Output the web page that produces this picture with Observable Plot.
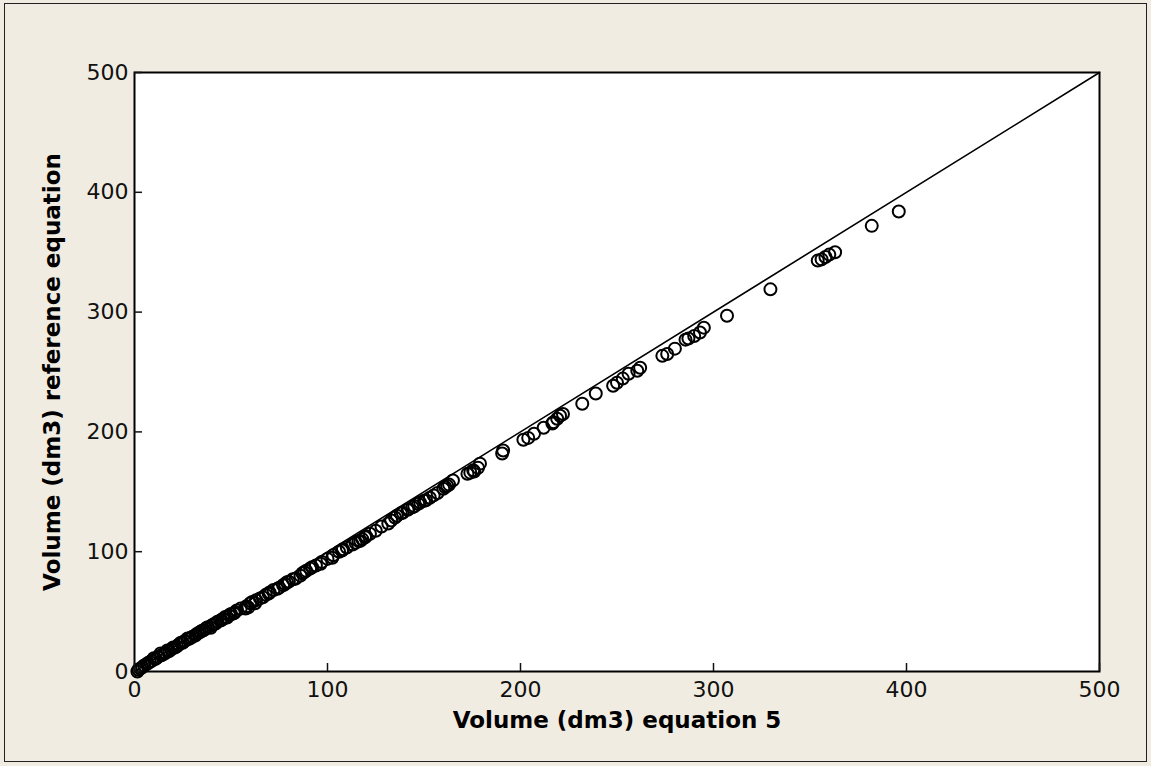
<!DOCTYPE html>
<html><head><meta charset="utf-8">
<script src="https://cdn.jsdelivr.net/npm/d3@7"></script>
<script src="https://cdn.jsdelivr.net/npm/@observablehq/plot@0.6"></script>
<style>
html,body{margin:0;padding:0;background:#F0ECE2;}
#wrap{position:relative;width:1151px;height:766px;overflow:hidden;}
#border{position:absolute;left:4px;top:3px;width:1143px;height:759px;border:1px solid #222;box-sizing:border-box;}
#wrap svg{position:absolute;left:0;top:0;}
</style></head><body><div id="wrap"><div id="border"></div></div>
<script>
const xTicks = [0, 100, 200, 300, 400, 500];
const yTicks = [0, 100, 200, 300, 400, 500];
const xLabel = "Volume (dm3) equation 5";
const yLabel = "Volume (dm3) reference equation";
const lineX = [0, 500];
const lineY = [0, 500];
const volEq5 = [396,382,363,360,358,356,354,329.5,307,295,293,290,287,285.5,280,276,273.5,262,260.5,256,253,250,248,239,232,222,220.5,219,217,216.5,212,207,204,201.5,191,190.5,179,175.5,174,172.5,165,162,160,155,150,147,144,141.5,138,136,131.5,125,122,119.5,117,114.5,107.5,102.5,100,96.5,94,91,87,86,83.5,77,74,69.5,66.5,62.5,59,57.5,51.5,48,44.5,42,39.5,35,31.5,27.5,24,20,17,13.5,10,6.5,3,1.5,
2,4,5,7,8,9,11,12,14,15,16,18,19,21,22,23,25,26,28,29,30,32,33,34,36,37,38,40,41,43,45,46,47,49,50,52,53,55,58,60,61,63,65,68,70,72,75,78,79,80,82,88,89,92,97,103,106,108,110,113,116,118,120,128,133,135,139,142,145,148,151,153,157,161,163,176,178];
const volRef = [384,372,350,348,346,344,343,319,297,287,283,280,278,277,269.5,265,263.5,253.5,251,248.5,244.5,241,238.5,232,223.5,215,213.5,211,208,207,203.5,198.5,195,193.5,184.5,182,173.5,168,166,165,159.5,155,152.5,147,142.5,140,137,135,132,130,123.5,117.5,115,112,109,107.5,101,95,94,90,88.5,86,82,80,77.5,72,69,65,62,57,53.5,52.5,48.5,45,42.5,40,36.5,34,30,27.5,24,20,17.5,15,11,6.5,2.5,0,
1.5,3.5,5,7,8,9,10.5,12,13.5,14.5,15.5,17,18.5,20,21,22.5,24,25.5,27,28,29,31,32,33,34.5,36,37,38.5,39.5,41.5,43,44,45.5,47,48,49.5,51,52.5,54.5,57,58,59.5,61,64,66,68,70,73,74.5,75,77,83,84,87,91.5,97,100,102,103.5,106,109,110.5,113,121,126,128.5,132.5,135.5,138,141,143,145,149,154,156,167,170];
const pts = volEq5.map((x, i) => ({x, y: volRef[i]}));
const diag = lineX.map((x, i) => ({x, y: lineY[i]}));

const chart = Plot.plot({
  width: 1151, height: 766,
  marginLeft: 134, marginRight: 52, marginTop: 72, marginBottom: 95,
  style: {background: "transparent", fontFamily: "'DejaVu Sans', sans-serif", fontSize: "22px", color: "#111", overflow: "visible"},
  x: {domain: [0, 500]},
  y: {domain: [0, 500]},
  marks: [
    Plot.frame({fill: "white", stroke: null}),
    Plot.line(diag, {x: "x", y: "y", stroke: "black", strokeWidth: 1.6}),
    Plot.dot(pts, {x: "x", y: "y", r: 6, stroke: "black", strokeWidth: 2, fill: "none"}),
    Plot.frame({stroke: "black", strokeWidth: 2}),
    Plot.axisX({ticks: xTicks, tickSize: 8, text: null, dy: -8, label: null, strokeWidth: 1.5}),
    Plot.axisY({ticks: yTicks, tickSize: 8, text: null, dx: 8, label: null, strokeWidth: 1.5}),
    Plot.axisX({ticks: xTicks, tickSize: 0, tickPadding: 10, label: null, fontSize: 22}),
    Plot.axisY({ticks: yTicks, tickSize: 0, tickPadding: 6, label: null, fontSize: 22}),
    Plot.text([xLabel], {text: d => d, frameAnchor: "bottom", dy: 56, fontWeight: "bold", fontSize: 23, fill: "black"}),
    Plot.text([yLabel], {text: d => d, frameAnchor: "left", dx: -82, rotate: -90, textAnchor: "middle", fontWeight: "bold", fontSize: 23, fill: "black"})
  ]
});
document.getElementById("wrap").appendChild(chart);
</script></body></html>
